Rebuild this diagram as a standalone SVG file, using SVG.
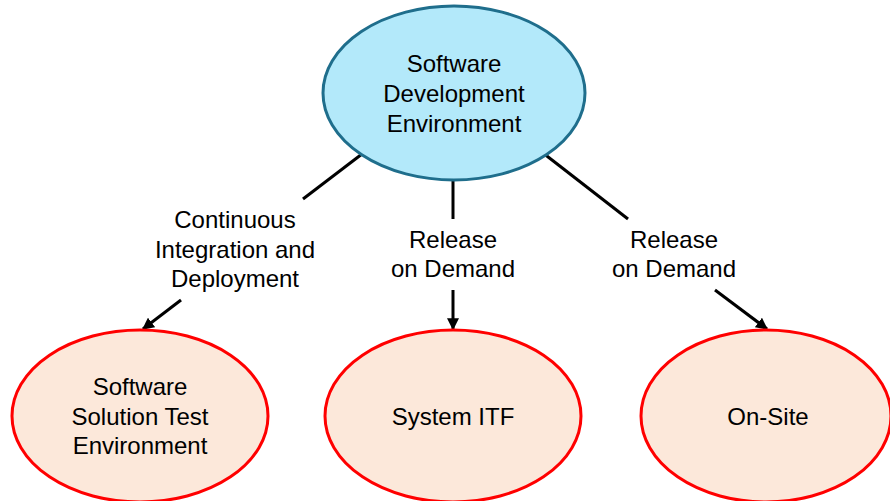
<svg xmlns="http://www.w3.org/2000/svg" width="890" height="501" viewBox="0 0 890 501">
<style>
text{font-family:"Liberation Sans",Arial,sans-serif;font-size:24px;fill:#000;text-anchor:middle}
.top{fill:#b3e9fa;stroke:#1f6e8c;stroke-width:3}
.leaf{fill:#fce8da;stroke:#ff0000;stroke-width:3}
.c{stroke:#000;stroke-width:3;fill:none}
</style>
<defs>
<marker id="ah" viewBox="0 0 10 10" refX="9" refY="5" markerWidth="4" markerHeight="4" orient="auto" markerUnits="strokeWidth">
<path d="M0,0 L10,5 L0,10 z" fill="#000"/>
</marker>
</defs>
<rect width="890" height="501" fill="#fff"/>
<g id="connectors">
<line class="c" x1="362" y1="154" x2="303" y2="199"/>
<line class="c" x1="181" y1="300" x2="143" y2="329" marker-end="url(#ah)"/>
<line class="c" x1="453" y1="179" x2="453" y2="219"/>
<line class="c" x1="453" y1="290" x2="453" y2="329" marker-end="url(#ah)"/>
<line class="c" x1="543" y1="153" x2="628" y2="219"/>
<line class="c" x1="715" y1="290" x2="767" y2="329" marker-end="url(#ah)"/>
<text x="235" y="228">Continuous</text>
<text x="235" y="258">Integration and</text>
<text x="235" y="287">Deployment</text>
<text x="453" y="248">Release</text>
<text x="453" y="277">on Demand</text>
<text x="674" y="248">Release</text>
<text x="674" y="277">on Demand</text>
</g>
<g id="sde">
<ellipse class="top" cx="454" cy="93" rx="131" ry="87"/>
<text x="454" y="72">Software</text>
<text x="454" y="102">Development</text>
<text x="454" y="132">Environment</text>
</g>
<g id="sste">
<ellipse class="leaf" cx="140" cy="416" rx="128" ry="86"/>
<text x="140" y="395">Software</text>
<text x="140" y="425">Solution Test</text>
<text x="140" y="454">Environment</text>
</g>
<g id="itf">
<ellipse class="leaf" cx="453" cy="416" rx="128" ry="86"/>
<text x="453" y="425">System ITF</text>
</g>
<g id="onsite">
<ellipse class="leaf" cx="766" cy="416" rx="125" ry="86"/>
<text x="768" y="425">On-Site</text>
</g>
</svg>
